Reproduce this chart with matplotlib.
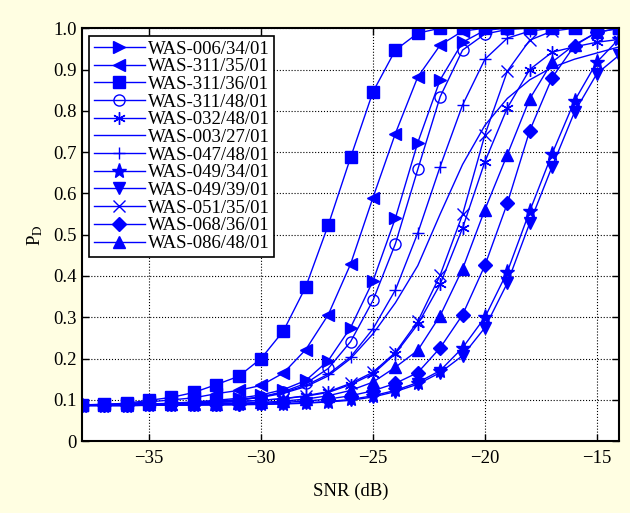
import numpy as np
from matplotlib import pyplot as plt

snr = np.arange(-38, -13)

# detection probability per template
was_006_34 = [0.088, 0.088, 0.089, 0.09, 0.092, 0.095, 0.099, 0.104, 0.112, 0.125, 0.147, 0.195, 0.275,
              0.388, 0.54, 0.723, 0.875, 0.966, 0.995, 1.0, 1.0, 1.0, 1.0, 1.0, 1.0]
was_311_35 = [0.088, 0.089, 0.091, 0.095, 0.1, 0.105, 0.115, 0.123, 0.135, 0.165, 0.222, 0.306, 0.429,
              0.59, 0.745, 0.882, 0.959, 0.993, 1.0, 1.0, 1.0, 1.0, 1.0, 1.0, 1.0]
was_311_36 = [0.088, 0.089, 0.092, 0.099, 0.106, 0.118, 0.137, 0.157, 0.2, 0.267, 0.374, 0.523, 0.687,
              0.846, 0.947, 0.988, 1.0, 1.0, 1.0, 1.0, 1.0, 1.0, 1.0, 1.0, 1.0]
was_311_48 = [0.088, 0.088, 0.089, 0.09, 0.091, 0.093, 0.096, 0.1, 0.107, 0.12, 0.14, 0.176, 0.241,
              0.341, 0.478, 0.658, 0.834, 0.947, 0.986, 0.997, 1.0, 1.0, 1.0, 1.0, 1.0]
was_032_48 = [0.088, 0.088, 0.089, 0.09, 0.091, 0.092, 0.094, 0.096, 0.099, 0.103, 0.109, 0.118, 0.137,
              0.163, 0.212, 0.283, 0.38, 0.516, 0.677, 0.807, 0.9, 0.942, 0.955, 0.966, 0.973]
was_003_27 = [0.088, 0.088, 0.089, 0.09, 0.091, 0.093, 0.096, 0.1, 0.106, 0.116, 0.132, 0.158, 0.2,
              0.26, 0.335, 0.425, 0.55, 0.67, 0.765, 0.83, 0.875, 0.905, 0.925, 0.94, 0.955]
was_047_48 = [0.088, 0.088, 0.089, 0.09, 0.091, 0.093, 0.096, 0.1, 0.107, 0.118, 0.135, 0.162, 0.204,
              0.272, 0.366, 0.504, 0.665, 0.814, 0.925, 0.976, 0.993, 1.0, 1.0, 1.0, 1.0]
was_049_34 = [0.086, 0.086, 0.086, 0.087, 0.087, 0.088, 0.088, 0.089, 0.09, 0.091, 0.093, 0.096, 0.101,
              0.11, 0.123, 0.142, 0.171, 0.226, 0.3, 0.41, 0.557, 0.696, 0.824, 0.918, 0.975]
was_049_39 = [0.086, 0.086, 0.086, 0.087, 0.087, 0.087, 0.088, 0.088, 0.089, 0.09, 0.092, 0.095, 0.099,
              0.107, 0.12, 0.138, 0.166, 0.207, 0.275, 0.383, 0.528, 0.665, 0.797, 0.89, 0.935]
was_051_35 = [0.088, 0.088, 0.089, 0.09, 0.091, 0.092, 0.094, 0.096, 0.099, 0.103, 0.11, 0.12, 0.14,
              0.167, 0.215, 0.29, 0.402, 0.549, 0.742, 0.896, 0.971, 0.993, 1.0, 1.0, 1.0]
was_068_36 = [0.088, 0.088, 0.088, 0.089, 0.089, 0.09, 0.09, 0.091, 0.092, 0.094, 0.097, 0.102, 0.11,
              0.122, 0.14, 0.166, 0.226, 0.306, 0.426, 0.576, 0.752, 0.88, 0.958, 0.99, 1.0]
was_086_48 = [0.088, 0.088, 0.088, 0.089, 0.09, 0.09, 0.091, 0.092, 0.094, 0.097, 0.102, 0.11, 0.123,
              0.143, 0.179, 0.22, 0.304, 0.417, 0.561, 0.694, 0.829, 0.918, 0.96, 0.99, 1.0]

series = [
    ("WAS-006/34/01", was_006_34, ">"),
    ("WAS-311/35/01", was_311_35, "<"),
    ("WAS-311/36/01", was_311_36, "s"),
    ("WAS-311/48/01", was_311_48, "o"),
    ("WAS-032/48/01", was_032_48, "asterisk"),
    ("WAS-003/27/01", was_003_27, ""),
    ("WAS-047/48/01", was_047_48, "+"),
    ("WAS-049/34/01", was_049_34, "*"),
    ("WAS-049/39/01", was_049_39, "v"),
    ("WAS-051/35/01", was_051_35, "x"),
    ("WAS-068/36/01", was_068_36, "D"),
    ("WAS-086/48/01", was_086_48, "^"),
]

plt.rcParams['font.family'] = ['Liberation Serif', 'DejaVu Serif']
plt.rcParams['mathtext.fontset'] = 'stix'
fs = 13.5

fig = plt.figure(figsize=(6.3, 5.13), dpi=100, facecolor="#fffee2")
ax = fig.add_axes([0.130, 0.140, 0.853, 0.805])

blue = "#0000ff"
for name, vals, mk in series:
    if mk == "":
        ax.plot(snr, vals, color=blue, lw=1.0, label=name)
    elif mk == "asterisk":
        ax.plot(snr, vals, color=blue, lw=1.0, marker=(6, 2, 0), ms=9, mew=1.0, label=name)
    elif mk in ("+", "x"):
        ax.plot(snr, vals, color=blue, lw=1.0, marker=mk, ms=9, mew=1.0, label=name)
    elif mk == "o":
        ax.plot(snr, vals, color=blue, lw=1.0, marker=mk, ms=8, mfc="none", mew=1.0, label=name)
    elif mk == "D":
        ax.plot(snr, vals, color=blue, lw=1.0, marker=mk, ms=7, mfc=blue, label=name)
    elif mk == "*":
        ax.plot(snr, vals, color=blue, lw=1.0, marker=mk, ms=11, mfc=blue, label=name)
    else:
        ax.plot(snr, vals, color=blue, lw=1.0, marker=mk, ms=9, mfc=blue, label=name)

ax.set_xlim(-38, -14)
ax.set_ylim(0, 1.0)
ax.set_xticks([-35, -30, -25, -20, -15])
ax.set_xticklabels(["\u221235", "\u221230", "\u221225", "\u221220", "\u221215"])
ax.set_yticks(np.arange(0, 1.01, 0.1))
ax.set_yticklabels(["0", "0.1", "0.2", "0.3", "0.4", "0.5", "0.6", "0.7", "0.8", "0.9", "1.0"])
ax.tick_params(direction="in", top=True, right=True, labelsize=fs, length=5, width=1.0)
ax.tick_params(axis="x", pad=6)
ax.grid(True, color="black", linestyle=":", linewidth=0.8)
for sp in ax.spines.values():
    sp.set_linewidth(1.5)

ax.set_xlabel("SNR (dB)", fontsize=fs, labelpad=12)
ax.set_ylabel(r"P$_\mathrm{D}$", fontsize=fs, labelpad=6)

leg = ax.legend(loc="upper left", fontsize=fs, fancybox=False, framealpha=1, edgecolor="black",
                handlelength=2.7, borderaxespad=0.4, labelspacing=0.03, handletextpad=0.15,
                borderpad=0.25)
leg.get_frame().set_linewidth(1.2)

fig.savefig("out.png", dpi=100, facecolor=fig.get_facecolor())
